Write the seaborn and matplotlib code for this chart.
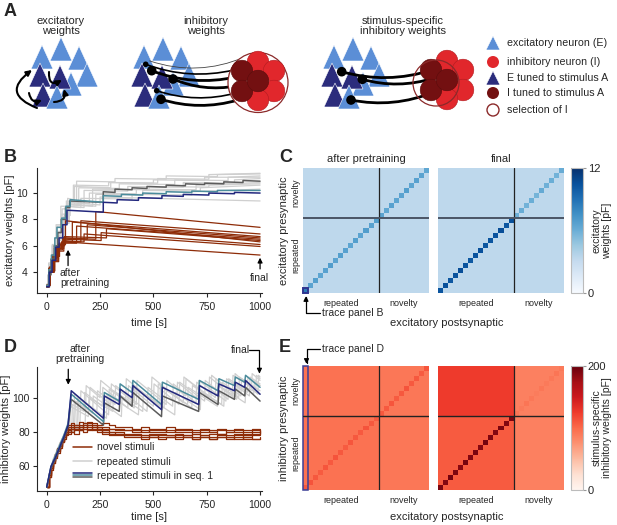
import numpy as np
import matplotlib
matplotlib.use('Agg')
import matplotlib.pyplot as plt
import seaborn as sns
from matplotlib.patches import Polygon, Circle, Rectangle, FancyArrowPatch
from matplotlib.lines import Line2D
from matplotlib.legend_handler import HandlerBase

sns.set_style('ticks')
plt.rcParams['font.family'] = ['Liberation Sans', 'DejaVu Sans']
plt.rcParams['font.size'] = 7.5

# ---------------- data: panel B (excitatory weights, pF) ----------------
exc_seq1_t = [0, 12, 12, 25, 25, 42, 42, 58, 58, 75, 75, 95, 95, 265, 265, 330, 330, 430, 430,
              540, 540, 640, 640, 760, 760, 880, 880, 1000]
exc_blue_v = [2.9, 2.9, 4.0, 4.0, 4.9, 4.9, 5.9, 5.9, 6.6, 6.6, 7.6, 7.6, 8.7, 8.55, 9.3, 9.25,
              9.5, 9.45, 9.65, 9.6, 9.8, 9.75, 9.9, 9.85, 10.0, 9.95, 10.05, 10.0]
exc_teal_t = [0, 10, 10, 22, 22, 38, 38, 48, 48, 70, 70, 90, 90, 110, 110, 265, 265, 350, 350,
              450, 450, 560, 560, 680, 680, 800, 800, 1000]
exc_teal_v = [3.0, 3.0, 4.2, 4.2, 5.3, 5.3, 6.6, 6.6, 7.4, 7.4, 8.1, 8.1, 9.0, 9.0, 9.5, 9.3,
              9.8, 9.75, 9.9, 9.85, 10.0, 9.95, 10.1, 10.05, 10.15, 10.1, 10.2, 10.2]
exc_dgray_t = [0, 8, 8, 20, 20, 35, 35, 52, 52, 68, 68, 88, 88, 108, 108, 265, 265, 320, 320,
               400, 400, 470, 470, 560, 560, 650, 650, 740, 740, 830, 830, 920, 920, 1000]
exc_dgray_v = [2.9, 2.9, 3.8, 3.8, 5.0, 5.0, 6.0, 6.0, 7.0, 7.0, 8.0, 8.0, 8.9, 8.9, 9.4, 9.3,
               10.1, 10.05, 10.3, 10.25, 10.4, 10.35, 10.5, 10.45, 10.6, 10.55, 10.7, 10.65,
               10.75, 10.7, 10.85, 10.8, 10.95, 10.9]

exc_rep_t = [
    [0, 10, 10, 30, 30, 50, 50, 80, 80, 100, 100, 130, 130, 300, 300, 520, 520, 760, 760, 1000],
    [0, 14, 14, 32, 32, 55, 55, 78, 78, 105, 105, 150, 150, 340, 340, 600, 600, 850, 850, 1000],
    [0, 12, 12, 28, 28, 45, 45, 70, 70, 95, 95, 175, 175, 380, 380, 640, 640, 880, 880, 1000],
    [0, 15, 15, 35, 35, 58, 58, 82, 82, 110, 110, 200, 200, 420, 420, 700, 700, 1000],
    [0, 10, 10, 25, 25, 48, 48, 72, 72, 98, 98, 125, 125, 290, 290, 500, 500, 740, 740, 1000],
    [0, 13, 13, 33, 33, 52, 52, 75, 75, 102, 102, 230, 230, 450, 450, 720, 720, 1000],
    [0, 11, 11, 30, 30, 50, 50, 76, 76, 100, 100, 160, 160, 400, 400, 680, 680, 1000],
    [0, 16, 16, 36, 36, 56, 56, 80, 80, 105, 105, 250, 250, 1000],
    [0, 9, 9, 26, 26, 44, 44, 66, 66, 92, 92, 140, 140, 320, 320, 560, 560, 800, 800, 1000],
    [0, 14, 14, 34, 34, 54, 54, 78, 78, 104, 104, 215, 215, 480, 480, 760, 760, 1000],
]
exc_rep_v = [
    [3.0, 3.0, 4.3, 4.3, 5.6, 5.6, 6.9, 6.9, 8.2, 8.2, 9.2, 9.1, 10.5, 10.4, 10.8, 10.75, 11.1, 11.05, 11.4, 11.5],
    [2.9, 2.9, 4.0, 4.0, 5.4, 5.4, 6.6, 6.6, 7.9, 7.9, 9.4, 9.2, 10.4, 10.35, 10.7, 10.65, 11.0, 10.95, 11.2, 11.3],
    [3.0, 3.0, 4.5, 4.5, 5.8, 5.8, 7.1, 7.1, 8.4, 8.4, 9.0, 8.9, 10.2, 10.15, 10.5, 10.45, 10.8, 10.75, 11.0, 11.1],
    [2.9, 2.9, 4.1, 4.1, 5.5, 5.5, 6.8, 6.8, 8.3, 8.3, 9.3, 9.2, 10.0, 9.95, 10.3, 10.25, 10.6, 10.8],
    [3.1, 3.1, 4.6, 4.6, 6.0, 6.0, 7.5, 7.5, 8.8, 8.8, 9.6, 9.5, 10.6, 10.55, 10.8, 10.75, 11.0, 10.95, 11.2, 11.2],
    [3.0, 3.0, 4.2, 4.2, 5.2, 5.2, 6.4, 6.4, 7.8, 7.8, 9.2, 9.0, 9.9, 9.85, 10.2, 10.15, 10.4, 10.6],
    [2.9, 2.9, 4.4, 4.4, 5.7, 5.7, 7.0, 7.0, 8.0, 8.0, 9.0, 8.9, 9.6, 9.55, 9.9, 9.85, 10.1, 10.3],
    [3.0, 3.0, 4.0, 4.0, 5.3, 5.3, 6.5, 6.5, 7.7, 7.7, 9.3, 9.1, 9.7, 9.4],
    [3.0, 3.0, 4.7, 4.7, 6.1, 6.1, 7.6, 7.6, 9.0, 9.0, 9.4, 9.3, 10.9, 10.85, 11.1, 11.05, 11.3, 11.25, 11.4, 11.45],
    [2.9, 2.9, 4.1, 4.1, 5.4, 5.4, 6.7, 6.7, 8.1, 8.1, 9.1, 9.0, 10.3, 10.25, 10.5, 10.45, 10.6, 10.7],
]

exc_nov_t = [
    [0, 12, 12, 30, 30, 50, 50, 75, 75, 230, 230, 1000],
    [0, 15, 15, 35, 35, 55, 55, 80, 80, 160, 160, 1000],
    [0, 10, 10, 28, 28, 48, 48, 70, 70, 120, 120, 1000],
    [0, 13, 13, 33, 33, 52, 52, 78, 78, 190, 190, 1000],
    [0, 11, 11, 31, 31, 53, 53, 74, 74, 140, 140, 1000],
    [0, 14, 14, 36, 36, 58, 58, 82, 82, 280, 280, 1000],
    [0, 12, 12, 29, 29, 47, 47, 68, 68, 88, 88, 1000],
    [0, 16, 16, 38, 38, 60, 60, 84, 84, 255, 255, 1000],
    [0, 10, 10, 27, 27, 46, 46, 72, 72, 175, 175, 1000],
    [0, 13, 13, 34, 34, 56, 56, 80, 80, 1000],
]
exc_nov_v = [
    [2.9, 2.9, 4.1, 4.1, 5.2, 5.2, 6.0, 6.0, 6.6, 6.5, 8.6, 7.4],
    [3.0, 3.0, 4.0, 4.0, 5.0, 5.0, 5.8, 5.8, 6.4, 6.3, 7.9, 6.9],
    [2.9, 2.9, 4.3, 4.3, 5.3, 5.3, 5.9, 5.9, 6.3, 6.3, 7.8, 6.7],
    [3.0, 3.0, 4.2, 4.2, 5.1, 5.1, 6.1, 6.1, 6.6, 6.5, 7.6, 6.6],
    [2.9, 2.9, 4.0, 4.0, 4.9, 4.9, 5.7, 5.7, 6.2, 6.2, 7.5, 6.5],
    [3.0, 3.0, 4.4, 4.4, 5.4, 5.4, 6.2, 6.2, 6.7, 6.6, 7.3, 6.4],
    [2.9, 2.9, 4.2, 4.2, 5.1, 5.1, 5.8, 5.8, 6.1, 6.1, 7.9, 6.3],
    [3.0, 3.0, 4.1, 4.1, 5.2, 5.2, 6.0, 6.0, 6.5, 6.4, 7.0, 6.1],
    [2.9, 2.9, 4.3, 4.3, 5.0, 5.0, 5.8, 5.8, 6.3, 6.3, 6.9, 5.95],
    [3.0, 3.0, 4.0, 4.0, 4.8, 4.8, 5.6, 5.6, 6.3, 5.3],
]

# ---------------- data: panel D (inhibitory weights, pF) ----------------
inh_seq1_t = [0, 20, 40, 60, 80, 100, 115, 266, 270, 340, 344, 400, 404, 538, 542, 712, 716,
              803, 807, 880, 884, 928, 932, 1000]
inh_blue_v = [48, 60, 65, 71, 77, 84, 104, 88, 101, 96, 105, 100, 107, 93, 106, 96, 107, 101,
              108, 104, 109, 106, 110, 102]
inh_teal_v = [48, 60, 66, 72, 78, 85, 102, 86, 103, 98, 108, 103, 110, 96, 109, 99, 110, 104,
              111, 107, 112, 109, 113, 106]
inh_dgray_v = [48, 59, 64, 70, 76, 83, 99, 84, 97, 92, 101, 95, 103, 89, 101, 92, 103, 96,
               104, 99, 105, 101, 106, 98]

inh_rep_t = [
    [0, 30, 60, 90, 125, 130, 200, 203, 300, 303, 420, 423, 560, 563, 650, 653, 760, 763, 870, 873, 960, 963, 1000],
    [0, 30, 60, 90, 140, 145, 235, 238, 320, 323, 470, 475, 590, 593, 700, 703, 790, 793, 900, 903, 1000],
    [0, 30, 60, 90, 118, 120, 175, 178, 260, 263, 380, 383, 500, 503, 620, 623, 740, 743, 850, 853, 940, 943, 1000],
    [0, 30, 60, 90, 155, 160, 290, 293, 410, 413, 520, 523, 680, 683, 820, 823, 910, 913, 980, 983, 1000],
    [0, 30, 60, 90, 130, 135, 215, 218, 350, 353, 450, 453, 600, 603, 720, 723, 830, 833, 930, 933, 1000],
    [0, 30, 60, 90, 180, 185, 250, 253, 370, 373, 490, 493, 640, 643, 770, 773, 880, 883, 990, 993, 1000],
    [0, 30, 60, 90, 145, 150, 280, 283, 430, 433, 550, 553, 660, 663, 800, 803, 890, 893, 970, 973, 1000],
    [0, 30, 60, 90, 108, 110, 195, 198, 310, 313, 400, 403, 530, 533, 610, 613, 710, 713, 840, 843, 950, 953, 1000],
]
inh_rep_v = [
    [48, 63, 72, 80, 82, 102, 95, 106, 96, 108, 96, 110, 96, 110, 101, 111, 100, 112, 101, 113, 106, 114, 110],
    [48, 62, 71, 79, 81, 100, 92, 104, 96, 107, 92, 106, 95, 108, 97, 109, 100, 111, 100, 112, 104],
    [48, 64, 73, 80, 83, 96, 92, 103, 95, 106, 94, 107, 95, 108, 96, 109, 98, 110, 99, 111, 103, 112, 107],
    [48, 63, 72, 81, 82, 104, 90, 105, 94, 106, 97, 108, 94, 107, 96, 109, 101, 111, 105, 113, 111],
    [48, 62, 71, 79, 81, 98, 91, 101, 89, 100, 92, 102, 90, 103, 93, 104, 95, 105, 97, 106, 102],
    [48, 64, 72, 80, 84, 107, 100, 110, 98, 111, 99, 112, 97, 112, 100, 113, 102, 114, 102, 113, 112],
    [48, 63, 73, 81, 83, 100, 88, 102, 90, 104, 94, 105, 96, 106, 95, 107, 99, 108, 102, 109, 107],
    [48, 62, 71, 79, 82, 95, 89, 100, 92, 104, 97, 106, 95, 107, 100, 109, 99, 110, 98, 111, 101, 112, 108],
]

inh_nov_t = [0, 10, 20, 30, 40, 50, 60, 70, 80, 90, 100, 115, 130, 150, 170, 190, 210, 235, 260,
             290, 320, 360, 400, 440, 480, 520, 560, 600, 640, 680, 720, 760, 800, 840, 880, 920,
             960, 1000]
inh_nov_v = [
    [48, 55, 60, 63, 67, 70, 73, 76, 79, 82, 84, 85, 84, 86, 85, 86, 85, 84, 85, 84, 83, 83, 82, 83, 82, 82, 83, 82, 82, 81, 82, 81, 82, 81, 82, 81, 82, 82],
    [48, 54, 59, 64, 66, 70, 72, 75, 78, 80, 82, 83, 84, 83, 85, 84, 84, 83, 82, 82, 81, 81, 80, 81, 80, 80, 81, 80, 80, 79, 80, 80, 79, 80, 80, 79, 80, 81],
    [48, 56, 60, 62, 66, 69, 73, 74, 77, 79, 80, 82, 81, 83, 82, 84, 83, 82, 81, 80, 80, 79, 79, 78, 79, 79, 78, 79, 78, 79, 78, 79, 79, 78, 79, 78, 79, 80],
    [48, 55, 59, 63, 67, 69, 72, 75, 77, 79, 81, 80, 82, 81, 82, 81, 83, 82, 80, 80, 79, 78, 78, 78, 77, 78, 78, 77, 78, 77, 78, 77, 78, 77, 78, 77, 78, 78],
    [48, 54, 58, 62, 65, 68, 71, 74, 76, 78, 79, 80, 79, 81, 80, 82, 81, 80, 79, 78, 78, 77, 77, 76, 77, 76, 77, 76, 77, 76, 77, 76, 77, 77, 76, 77, 76, 77],
    [48, 55, 60, 64, 66, 70, 72, 76, 78, 81, 83, 84, 82, 84, 83, 85, 84, 83, 83, 82, 82, 81, 81, 80, 81, 81, 80, 81, 81, 80, 81, 80, 81, 80, 81, 80, 81, 79],
    [48, 56, 59, 63, 67, 71, 74, 75, 78, 80, 81, 82, 83, 82, 84, 83, 82, 81, 80, 79, 79, 78, 78, 77, 78, 77, 77, 78, 77, 76, 77, 76, 77, 76, 77, 76, 76, 76],
]

# ---------------- data: panels C and E (25 x 25 weight matrices) ----------------
n_repeated = 15
n_novel = 10
block_labels = ['repeated', 'novelty']

exc_off_pre = 3.3
exc_off_final = 3.3
exc_diag_pre = [8.5, 6.6, 6.8, 6.5, 6.7, 6.9, 6.6, 6.8, 6.7, 6.5, 6.8, 6.6, 6.9, 6.7, 6.8,
                6.6, 6.4, 6.7, 6.5, 6.6, 6.8, 6.5, 6.7, 6.6, 6.4]
exc_diag_final = [10.3, 10.5, 10.2, 10.4, 10.6, 10.3, 10.1, 10.4, 10.5, 10.2, 10.3, 10.4, 10.6,
                  10.2, 10.5, 5.9, 6.1, 5.8, 6.0, 5.7, 6.2, 5.9, 6.0, 5.8, 6.1]

# off-diagonal block values: [rep pre->rep post, nov pre->rep post, rep pre->nov post, nov pre->nov post]
inh_off_pre = [95, 95, 92, 92]
inh_off_final = [108, 125, 86, 86]
inh_diag_pre = [110, 112, 110, 108, 111, 109, 112, 110, 108, 111, 110, 109, 112, 110, 108,
                110, 109, 111, 108, 110, 112, 109, 110, 108, 111]
inh_diag_final = [192, 188, 195, 190, 186, 193, 189, 191, 187, 194, 190, 188, 192, 189, 191,
                  92, 90, 93, 91, 89, 92, 90, 91, 93, 90]

# colours
c_blue = '#23287e'
c_teal = '#4b8c9c'
c_dgray = '#5c5c5c'
c_lgray = '#cfcfcf'
c_brown = '#8e2c08'
c_exc = '#5b8ed6'
c_exc_dark = '#2b2c7c'
c_inh = '#e1272c'
c_inh_dark = '#731011'

W, H = 617, 525
fig = plt.figure(figsize=(W / 100, H / 100), dpi=100)


def fbox(x0, y0, x1, y1):
    # pixel box (top-left origin) -> figure fraction rect
    return [x0 / W, 1 - y1 / H, (x1 - x0) / W, (y1 - y0) / H]


def block_matrix(off, diag):
    m = np.zeros((n_repeated + n_novel, n_repeated + n_novel))
    r, n = slice(0, n_repeated), slice(n_repeated, None)
    m[r, r] = off[0]
    m[n, r] = off[1]
    m[r, n] = off[2]
    m[n, n] = off[3]
    np.fill_diagonal(m, diag)
    return m


# ---------------- panel B ----------------
ax_b = fig.add_axes(fbox(36.7, 168, 262.2, 293.3))
for t, v in zip(exc_rep_t, exc_rep_v):
    ax_b.plot(t, v, color=c_lgray, lw=0.9)
for t, v in zip(exc_nov_t, exc_nov_v):
    ax_b.plot(t, v, color=c_brown, lw=0.9)
ax_b.plot(exc_dgray_t, exc_dgray_v, color=c_dgray, lw=1.1)
ax_b.plot(exc_teal_t, exc_teal_v, color=c_teal, lw=1.1)
ax_b.plot(exc_seq1_t, exc_blue_v, color=c_blue, lw=1.1)
ax_b.set_xlim(-47, 1010)
ax_b.set_ylim(2.4, 11.9)
ax_b.set_xticks([0, 250, 500, 750, 1000])
ax_b.set_yticks([4, 6, 8, 10])
ax_b.set_xlabel('time [s]', fontsize=8)
ax_b.set_ylabel('excitatory weights [pF]', fontsize=8)
ax_b.yaxis.set_label_coords(-0.098, 0.5)
ax_b.tick_params(labelsize=7.5, length=3, width=0.8)
sns.despine(ax=ax_b)
ax_b.annotate('', xy=(100, 5.7), xytext=(100, 4.5),
              arrowprops=dict(arrowstyle='-|>', color='k', lw=0.9, mutation_scale=7,
                              shrinkA=0, shrinkB=0))
ax_b.text(62, 3.55, 'after\npretraining', ha='left', va='center', fontsize=7.5, linespacing=1.0)
ax_b.annotate('', xy=(1000, 5.1), xytext=(1000, 4.25),
              arrowprops=dict(arrowstyle='-|>', color='k', lw=0.9, mutation_scale=7,
                              shrinkA=0, shrinkB=0))
ax_b.text(995, 3.55, 'final', ha='center', va='center', fontsize=7.5)

# ---------------- panel D ----------------
ax_d = fig.add_axes(fbox(36.7, 366.7, 262.2, 490.5))
for t, v in zip(inh_rep_t, inh_rep_v):
    ax_d.plot(t, v, color=c_lgray, lw=0.9)
for v in inh_nov_v:
    ax_d.plot(inh_nov_t, v, color=c_brown, lw=0.9, drawstyle='steps-post')
ax_d.plot(inh_seq1_t, inh_dgray_v, color=c_dgray, lw=1.1)
ax_d.plot(inh_seq1_t, inh_teal_v, color=c_teal, lw=1.1)
ax_d.plot(inh_seq1_t, inh_blue_v, color=c_blue, lw=1.1)
ax_d.set_xlim(-47, 1010)
ax_d.set_ylim(46, 118)
ax_d.set_xticks([0, 250, 500, 750, 1000])
ax_d.set_yticks([60, 80, 100])
ax_d.set_xlabel('time [s]', fontsize=8, labelpad=2)
ax_d.set_ylabel('inhibitory weights [pF]', fontsize=8)
ax_d.yaxis.set_label_coords(-0.112, 0.5)
ax_d.tick_params(labelsize=7.5, length=3, width=0.8)
ax_d.tick_params(axis='y', pad=2)
sns.despine(ax=ax_d)
ax_d.annotate('', xy=(101, 107.5), xytext=(101, 116.5), annotation_clip=False,
              arrowprops=dict(arrowstyle='-|>', color='k', lw=0.9, mutation_scale=7,
                              shrinkA=0, shrinkB=0))
ax_d.text(156, 125.3, 'after\npretraining', ha='center', va='center', fontsize=7.5,
          linespacing=1.0, clip_on=False)
ax_d.text(906, 127.6, 'final', ha='center', va='center', fontsize=7.5, clip_on=False)
ax_d.annotate('', xy=(997, 114), xytext=(948, 128), annotation_clip=False,
              arrowprops=dict(arrowstyle='-|>', color='k', lw=0.9, mutation_scale=7,
                              shrinkA=0, shrinkB=0,
                              connectionstyle='angle,angleA=0,angleB=90,rad=0'))


class Seq1Handle:
    colors = [c_blue, c_teal, c_dgray]


class HandlerThree(HandlerBase):
    def create_artists(self, legend, orig_handle, xdescent, ydescent, width, height,
                       fontsize, trans):
        arts = []
        for k, c in enumerate(orig_handle.colors):
            y = (height - ydescent) / 2 + (1 - k) * 0.3 * height
            ln = Line2D([-xdescent, -xdescent + width], [y, y], color=c, lw=1.1)
            ln.set_transform(trans)
            arts.append(ln)
        return arts


leg = ax_d.legend([Line2D([], [], color=c_brown, lw=1.1), Line2D([], [], color=c_lgray, lw=1.1),
                   Seq1Handle()],
                  ['novel stimuli', 'repeated stimuli', 'repeated stimuli in seq. 1'],
                  handler_map={Seq1Handle: HandlerThree()}, loc='lower left',
                  bbox_to_anchor=(0.13, 0.02), frameon=False, fontsize=7.5,
                  handlelength=1.8, handletextpad=0.5, labelspacing=0.4, borderpad=0.2)

# ---------------- panels C and E (heatmaps) ----------------
mats = {
    'C': [block_matrix([exc_off_pre] * 4, exc_diag_pre),
          block_matrix([exc_off_final] * 4, exc_diag_final)],
    'E': [block_matrix(inh_off_pre, inh_diag_pre),
          block_matrix(inh_off_final, inh_diag_final)],
}
heat_cfg = {
    'C': dict(cmap='Blues', vmax=12, y0=168, y1=293, ylabel='excitatory presynaptic',
              clabel='excitatory\nweights [pF]', hcol='#4a5566', hlw=1.4),
    'E': dict(cmap='Reds', vmax=200, y0=366, y1=490, ylabel='inhibitory presynaptic',
              clabel='stimulus-specific\ninhibitory weights [pF]', hcol='#222222', hlw=1.0),
}
centers = [n_repeated / 2, n_repeated + n_novel / 2]
for key, cfg in heat_cfg.items():
    cax = fig.add_axes(fbox(571, cfg['y0'], 583, cfg['y1']))
    for i, x0 in enumerate([303, 438]):
        ax = fig.add_axes(fbox(x0, cfg['y0'], x0 + 126, cfg['y1']))
        sns.heatmap(mats[key][i], ax=ax, cmap=cfg['cmap'], vmin=0, vmax=cfg['vmax'],
                    cbar=(i == 1), cbar_ax=cax if i == 1 else None,
                    xticklabels=False, yticklabels=False)
        ax.set_ylim(0, n_repeated + n_novel)
        ax.axvline(n_repeated, color='#222222', lw=0.9)
        ax.axhline(n_repeated, color=cfg['hcol'], lw=cfg['hlw'])
        ax.set_xticks(centers)
        ax.set_xticklabels(block_labels, fontsize=6.5)
        ax.tick_params(axis='x', length=0, pad=4)
        ax.tick_params(axis='y', length=0, pad=2)
        if i == 0:
            ax.set_yticks(centers)
            ax.set_yticklabels(block_labels, fontsize=6.5, rotation=90, va='center')
            ax.set_ylabel(cfg['ylabel'], fontsize=8)
            ax.yaxis.set_label_coords(-0.115, 0.5)
            if key == 'C':
                ax.add_patch(Rectangle((0, 0), 1, 1, fill=False, ec='#2f3590', lw=1.4,
                                       clip_on=False))
                ax.set_title('after pretraining', fontsize=8, pad=4)
            else:
                ax.add_patch(Rectangle((0, 0), 1, 25, fill=False, ec='#3c3f96', lw=1.1,
                                       clip_on=False))
        elif key == 'C':
            ax.set_title('final', fontsize=8, pad=4)
    cb = ax.collections[0].colorbar
    cb.set_ticks([0, cfg['vmax']])
    cb.outline.set_edgecolor('#bbbbbb')
    cb.outline.set_linewidth(0.8)
    cax.tick_params(labelsize=8, length=2, pad=1.5, color='#999999')
    fig.text(602 / W, 1 - (cfg['y0'] + cfg['y1']) / 2 / H, cfg['clabel'], rotation=90,
             ha='center', va='center', fontsize=7.5, linespacing=1.0, multialignment='center')

fig.text(447 / W, 1 - 322.5 / H, 'excitatory postsynaptic', ha='center', va='center', fontsize=8)
fig.text(447 / W, 1 - 517 / H, 'excitatory postsynaptic', ha='center', va='center', fontsize=8)

# ---------------- overlay in pixel coordinates: panel A and pointers ----------------
ov = fig.add_axes([0, 0, 1, 1], zorder=10)
ov.set_xlim(0, W)
ov.set_ylim(H, 0)
ov.axis('off')
ov.patch.set_alpha(0)

for lab, (x, y) in {'A': (4, 12), 'B': (4, 158), 'C': (279, 158), 'D': (4, 348),
                    'E': (279, 348)}.items():
    ov.text(x, y, lab, fontsize=13, fontweight='bold', va='center', ha='left')

ov.text(61, 26, 'excitatory\nweights', ha='center', va='center', fontsize=8, linespacing=1.05)
ov.text(206, 26, 'inhibitory\nweights', ha='center', va='center', fontsize=8, linespacing=1.05)
ov.text(403, 26, 'stimulus-specific\ninhibitory weights', ha='center', va='center',
        fontsize=8, linespacing=1.05)

tri_w, tri_h = 22, 24
tri_light_back = [(42, 45), (61, 37), (79, 46), (87, 63), (71, 72)]
tri_dark = [(40, 63), (60, 65), (43, 83)]
tri_light_front = [(57, 85)]
group_dx = [0, 102, 292]


def triangle(apex, color, w=tri_w, h=tri_h, z=2):
    x, y = apex
    ov.add_patch(Polygon([(x - w / 2, y + h), (x, y), (x + w / 2, y + h)], closed=True,
                         fc=color, ec='white', lw=0.4, zorder=z))


for dx in group_dx:
    for a in tri_light_back:
        triangle((a[0] + dx, a[1]), c_exc)
    for a in tri_dark:
        triangle((a[0] + dx, a[1]), c_exc_dark, z=3)
    for a in tri_light_front:
        triangle((a[0] + dx, a[1]), c_exc, z=4)

# recurrent excitatory arrows (group 1)
for pa, pb, rad in [((37, 108), (32, 70), -0.9), ((49, 72), (62, 80), 0.9),
                    ((29, 93), (42, 100), 0.6), ((54, 102), (64, 89), 0.6)]:
    ov.add_patch(FancyArrowPatch(pa, pb, connectionstyle=f'arc3,rad={rad}', arrowstyle='-|>',
                                 mutation_scale=8, lw=1.5, color='k', zorder=6,
                                 shrinkA=0, shrinkB=0))


def flower(cx, cy, z):
    petals = [((0, -19), c_inh), ((16, -10), c_inh), ((16, 10), c_inh), ((0, 19), c_inh),
              ((-16, -10), c_inh_dark), ((-16, 10), c_inh_dark), ((0, 0), c_inh_dark)]
    for (ox, oy), c in petals:
        ov.add_patch(Circle((cx + ox, cy + oy), 10.8, fc=c, ec='#b01c20' if c == c_inh else
                            '#5a0c0c', lw=0.4, zorder=z))


# group 2: inhibitory weights
dots2 = [(145.7, 64.3, 2.8), (151.7, 70.7, 4.8), (173, 79, 4.8), (156.7, 90.7, 2.8),
         (161, 99.3, 4.8)]
ends2 = [(234, 70), (236, 77), (236, 86), (236, 93), (238, 100)]
ov.add_patch(FancyArrowPatch((147, 60), (247, 56), connectionstyle='arc3,rad=0.2',
                             arrowstyle='-', lw=0.6, color='#444444', zorder=5))
for (x, y, r), e in zip(dots2, ends2):
    ov.add_patch(FancyArrowPatch((x, y), e, connectionstyle='arc3,rad=0.15', arrowstyle='-',
                                 lw=2.0 if r > 4 else 1.2, color='k', zorder=5,
                                 shrinkA=0, shrinkB=0))
    ov.add_patch(Circle((x, y), r, fc='k', ec='none', zorder=6))
ov.add_patch(Circle((258, 82.5), 30, fc='white', ec='#8b2a2a', lw=0.9, zorder=7))
flower(258, 81, 8)

# group 3: stimulus-specific inhibitory weights
dots3 = [(341.7, 71.7), (362.3, 79.3), (351, 100)]
ends3 = [(432, 70), (434, 78), (434, 92)]
for (x, y), e in zip(dots3, ends3):
    ov.add_patch(FancyArrowPatch((x, y), e, connectionstyle='arc3,rad=0.15', arrowstyle='-',
                                 lw=2.0, color='k', zorder=5, shrinkA=0, shrinkB=0))
    ov.add_patch(Circle((x, y), 4.8, fc='k', ec='none', zorder=6))
flower(447, 80, 8)
ov.add_patch(Circle((436, 83), 23, fc='none', ec='#8b2a2a', lw=0.9, zorder=9))

# legend of panel A
triangle((493, 36), c_exc, w=14, h=14)
ov.add_patch(Circle((493, 62), 6, fc=c_inh, ec='none'))
triangle((493, 71), c_exc_dark, w=14, h=14)
ov.add_patch(Circle((493, 93), 6, fc=c_inh_dark, ec='none'))
ov.add_patch(Circle((493, 110), 6, fc='white', ec='#8b2a2a', lw=1))
for y, s in zip([43, 62, 78, 93, 110], ['excitatory neuron (E)', 'inhibitory neuron (I)',
                                        'E tuned to stimulus A', 'I tuned to stimulus A',
                                        'selection of I']):
    ov.text(507, y, s, fontsize=7.7, va='center', ha='left')

# pointers to traced cells
ov.text(322, 313, 'trace panel B', fontsize=7.5, va='center', ha='left')
ov.annotate('', xy=(306, 296), xytext=(320, 313),
            arrowprops=dict(arrowstyle='-|>', color='k', lw=0.9, mutation_scale=7,
                            shrinkA=0, shrinkB=0,
                            connectionstyle='angle,angleA=180,angleB=90,rad=0'))
ov.text(322, 349, 'trace panel D', fontsize=7.5, va='center', ha='left')
ov.annotate('', xy=(306.5, 364), xytext=(320, 349),
            arrowprops=dict(arrowstyle='-|>', color='k', lw=0.9, mutation_scale=7,
                            shrinkA=0, shrinkB=0,
                            connectionstyle='angle,angleA=180,angleB=90,rad=0'))

fig.savefig('out.png', dpi=100)
